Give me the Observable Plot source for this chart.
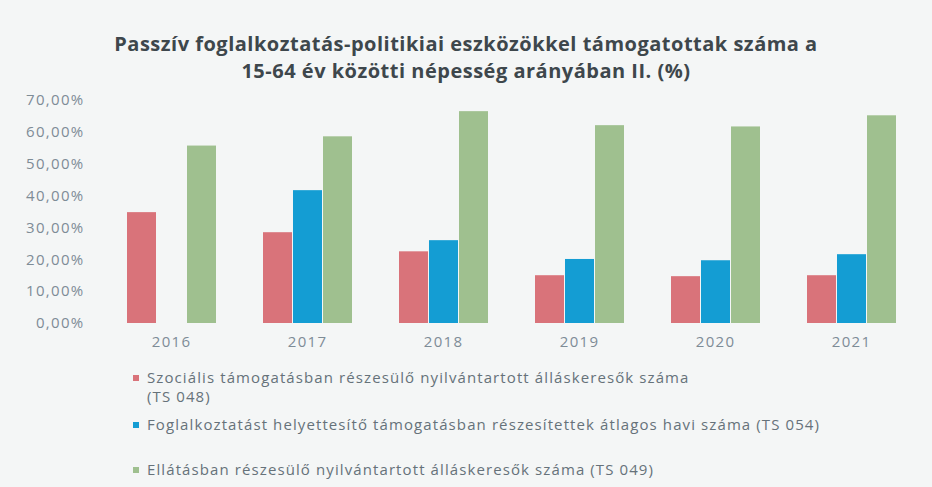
<!DOCTYPE html>
<html>
<head>
<meta charset="utf-8">
<script src="https://cdn.jsdelivr.net/npm/d3@7"></script>
<script src="https://cdn.jsdelivr.net/npm/@observablehq/plot@0.6"></script>
<style>
  html, body { margin: 0; padding: 0; background: #f4f6f6; width: 932px; height: 487px; overflow: hidden; }
  #title { position: absolute; left: 0; top: 30px; width: 932px; text-align: center;
    font-family: "Open Sans", sans-serif; font-weight: 700; font-size: 20px; line-height: 27px; color: #3e474c;
    letter-spacing: 0.5px; }
  #chart { position: absolute; left: 0; top: 88px; }
  #chart svg text { letter-spacing: 1.3px; }
  .leg { position: absolute; left: 133px; font-family: "Open Sans", sans-serif; font-size: 15px;
    line-height: 19px; color: #66727a; white-space: pre-line; letter-spacing: 1.1px; }
  .leg .sw { position: absolute; left: 0; top: 7px; width: 6px; height: 6px; }
  .leg .tx { margin-left: 14px; }
</style>
</head>
<body>
<div id="title"></div>
<div id="chart"></div>
<div id="legend"></div>
<script>
const titleText = "Passzív foglalkoztatás-politikiai eszközökkel támogatottak száma a\n15-64 év közötti népesség  arányában II. (%)";
const years = ["2016", "2017", "2018", "2019", "2020", "2021"];
const seriesNames = [
  "Szociális támogatásban részesülő nyilvántartott álláskeresők száma\n(TS 048)",
  "Foglalkoztatást helyettesítő támogatásban részesítettek átlagos havi száma (TS 054)",
  "Ellátásban részesülő nyilvántartott álláskeresők száma (TS 049)"
];
const szocialis = [34.8, 28.5, 22.5, 15.0, 14.7, 15.0];
const foglalkoztatast = [null, 41.7, 26.0, 20.1, 19.7, 21.6];
const ellatasban = [55.7, 58.6, 66.5, 62.1, 61.7, 65.2];
const yTicks = [0, 10, 20, 30, 40, 50, 60, 70];
const colors = ["#d9737a", "#149dd3", "#9fc08f"];

const seriesValues = [szocialis, foglalkoztatast, ellatasban];
const data = [];
years.forEach((yr, i) => {
  seriesValues.forEach((vals, s) => {
    if (vals[i] != null) data.push({ year: yr, series: seriesNames[s], value: vals[i] });
  });
});

const title = document.getElementById("title");
title.style.whiteSpace = "pre-line";
title.textContent = titleText;

const chart = Plot.plot({
  width: 932,
  height: 270,
  marginTop: 12,
  marginBottom: 35,
  marginLeft: 111,
  marginRight: 21,
  style: { background: "transparent", fontFamily: "'Open Sans', sans-serif", fontSize: "15px", color: "#7e8c96" },
  y: { domain: [0, 70], ticks: yTicks, tickFormat: d => d.toFixed(2).replace(".", ",") + "%", tickSize: 0, tickPadding: 42, label: null },
  fx: { domain: years, paddingInner: 0.34, paddingOuter: 0.1, label: null, tickSize: 0, tickPadding: 13, axis: "bottom" },
  x: { domain: seriesNames, axis: null, paddingInner: 0.05, paddingOuter: 0 },
  color: { domain: seriesNames, range: colors },
  marks: [
    Plot.barY(data, { fx: "year", x: "series", y: "value", fill: "series" })
  ]
});
document.getElementById("chart").appendChild(chart);

const legendTops = [368, 415, 460];
const legend = document.getElementById("legend");
seriesNames.forEach((name, i) => {
  const div = document.createElement("div");
  div.className = "leg";
  div.style.top = legendTops[i] + "px";
  const sw = document.createElement("div");
  sw.className = "sw";
  sw.style.background = colors[i];
  const tx = document.createElement("div");
  tx.className = "tx";
  tx.textContent = name;
  div.appendChild(sw);
  div.appendChild(tx);
  legend.appendChild(div);
});
</script>
</body>
</html>
